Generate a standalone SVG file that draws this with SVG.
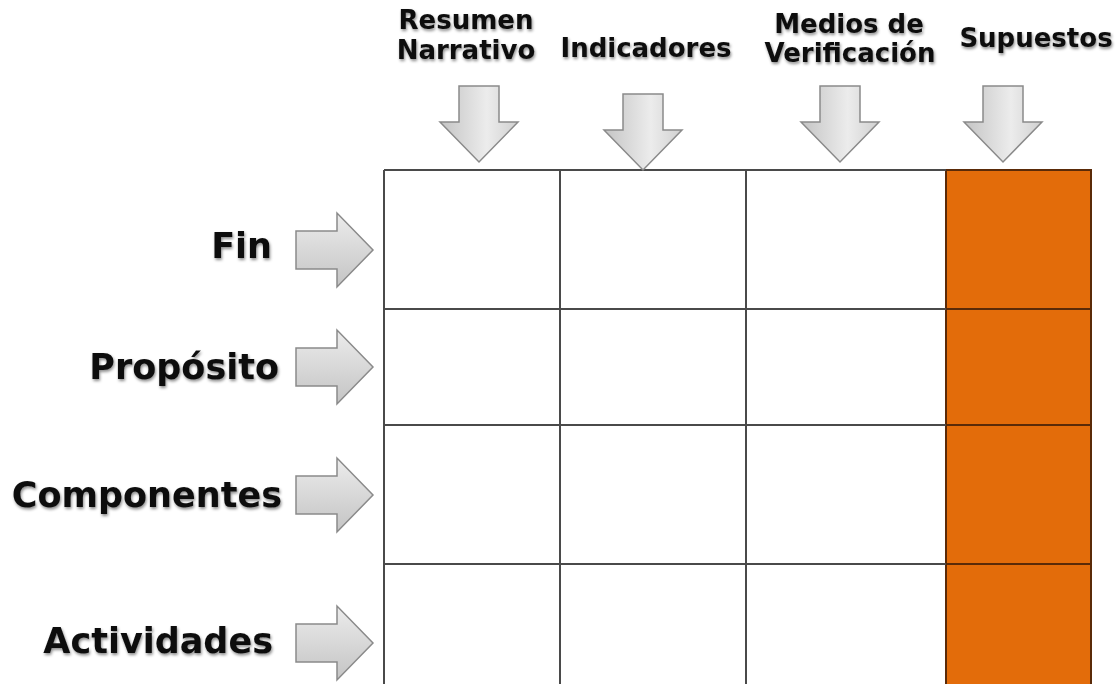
<svg xmlns="http://www.w3.org/2000/svg" width="1117" height="684" viewBox="0 0 1117 684">
<defs>
<style>
.lbl{font-family:"DejaVu Sans","Verdana",sans-serif;font-weight:bold;fill:#111;filter:url(#sh)}
.row{font-size:35px;text-anchor:end}
.col{font-size:26px;text-anchor:middle}
.arr{stroke:#8a8a8a;stroke-width:1.5;stroke-linejoin:miter}
.dn{fill:url(#gdn)}
.rt{fill:url(#grt)}
.grid{stroke:#4a4a4a;stroke-width:2;fill:none}
</style>
<linearGradient id="gdn" x1="0" y1="0" x2="1" y2="0">
<stop offset="0" stop-color="#c4c4c4"/>
<stop offset="0.6" stop-color="#ececec"/>
<stop offset="1" stop-color="#d0d0d0"/>
</linearGradient>
<linearGradient id="grt" x1="0" y1="0" x2="0" y2="1">
<stop offset="0" stop-color="#ececec"/>
<stop offset="1" stop-color="#c4c4c4"/>
</linearGradient>
<filter id="sh" x="-10%" y="-30%" width="120%" height="160%">
<feGaussianBlur in="SourceAlpha" stdDeviation="1.6"/>
<feOffset dx="1" dy="2" result="b"/>
<feFlood flood-color="#000" flood-opacity="0.45"/>
<feComposite in2="b" operator="in"/>
<feMerge><feMergeNode/><feMergeNode in="SourceGraphic"/></feMerge>
</filter>
<path id="down" d="M-20,-76 H20 V-40 H39 L0,0 L-39,-40 H-20 Z"/>
<path id="right" d="M-77,-19 H-36 V-37 L0,0 L-36,37 V19 H-77 Z"/>
</defs>
<rect width="1117" height="684" fill="#fff"/>

<g id="matrix">
<rect x="946" y="170" width="145" height="520" fill="#e36c0a" stroke="#5a2a08" stroke-width="2"/>
<path class="grid" d="M384,170 H946 M384,309 H946 M384,425 H946 M384,564 H946 M384,170 V690 M560,170 V690 M746,170 V690"/>
<path d="M946,309 H1091 M946,425 H1091 M946,564 H1091" stroke="#5a2a08" stroke-width="2" fill="none"/>
</g>

<g id="col-resumen">
<text class="lbl col" x="466" y="29">Resumen</text>
<text class="lbl col" x="466" y="59">Narrativo</text>
</g>
<g id="col-indicadores">
<text class="lbl col" x="646" y="57">Indicadores</text>
</g>
<g id="col-medios">
<text class="lbl col" x="849" y="33">Medios de</text>
<text class="lbl col" x="850" y="62">Verificación</text>
</g>
<g id="col-supuestos">
<text class="lbl col" x="1036" y="47">Supuestos</text>
</g>

<g id="row-fin"><text class="lbl row" x="272" y="258">Fin</text></g>
<g id="row-proposito"><text class="lbl row" x="279" y="379">Propósito</text></g>
<g id="row-componentes"><text class="lbl row" x="282" y="507">Componentes</text></g>
<g id="row-actividades"><text class="lbl row" x="273" y="653">Actividades</text></g>

<g id="connectors">
<use href="#down" class="arr dn" x="479" y="162"/>
<use href="#down" class="arr dn" x="643" y="170"/>
<use href="#down" class="arr dn" x="840" y="162"/>
<use href="#down" class="arr dn" x="1003" y="162"/>
<use href="#right" class="arr rt" x="373" y="250"/>
<use href="#right" class="arr rt" x="373" y="367"/>
<use href="#right" class="arr rt" x="373" y="495"/>
<use href="#right" class="arr rt" x="373" y="643"/>
</g>
</svg>
